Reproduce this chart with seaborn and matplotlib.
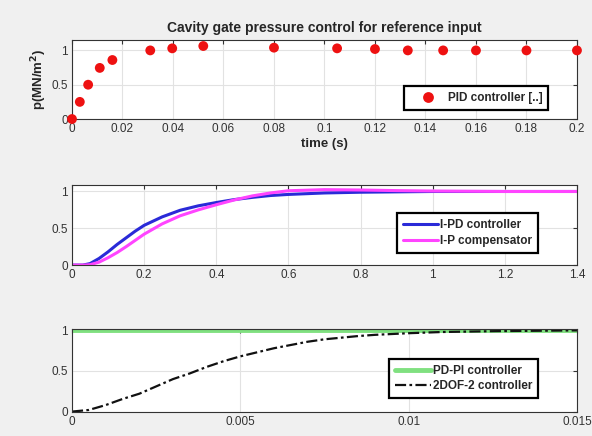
import matplotlib
matplotlib.use("Agg")
import matplotlib.pyplot as plt
import seaborn as sns
import pandas as pd

# ---- data ----
pid_t = [0, 0.0031, 0.0064, 0.011, 0.016, 0.031, 0.0397, 0.052, 0.08, 0.105,
         0.12, 0.133, 0.147, 0.16, 0.18, 0.2]
pid_p = [0, 0.25, 0.50, 0.745, 0.86, 1.0, 1.03, 1.064, 1.04, 1.03,
         1.02, 1.0, 1.0, 1.0, 1.0, 1.0]

mid_t = [0, 0.03, 0.05, 0.075, 0.1, 0.125, 0.15, 0.175, 0.2, 0.25, 0.3, 0.35,
         0.4, 0.45, 0.5, 0.55, 0.6, 0.7, 0.8, 0.9, 1.0, 1.2, 1.4]
ipd_p = [0, 0.0, 0.02, 0.09, 0.18, 0.28, 0.37, 0.46, 0.54, 0.655, 0.745, 0.805,
         0.85, 0.89, 0.92, 0.945, 0.96, 0.98, 0.99, 0.995, 1.0, 1.0, 1.0]
ip_p = [0, 0.0, 0.005, 0.04, 0.10, 0.17, 0.25, 0.335, 0.42, 0.56, 0.67, 0.75,
        0.82, 0.885, 0.94, 0.98, 1.01, 1.025, 1.02, 1.012, 1.006, 1.0, 1.0]

bot_t = [0, 0.0005, 0.001, 0.0015, 0.002, 0.0025, 0.003, 0.0035, 0.004,
         0.0045, 0.005, 0.0055, 0.006, 0.0065, 0.007, 0.0075, 0.008, 0.0085,
         0.009, 0.01, 0.011, 0.0125, 0.015]
pdpi_p = [1.0] * len(bot_t)
dof_p = [0, 0.02, 0.08, 0.155, 0.22, 0.31, 0.40, 0.47, 0.55, 0.62, 0.68,
         0.73, 0.78, 0.82, 0.86, 0.89, 0.91, 0.93, 0.945, 0.965, 0.98, 0.99, 1.0]

top_xticks = [0, 0.02, 0.04, 0.06, 0.08, 0.1, 0.12, 0.14, 0.16, 0.18, 0.2]
top_xlabels = ["0", "0.02", "0.04", "0.06", "0.08", "0.1", "0.12", "0.14", "0.16", "0.18", "0.2"]
mid_xticks = [0, 0.2, 0.4, 0.6, 0.8, 1.0, 1.2, 1.4]
mid_xlabels = ["0", "0.2", "0.4", "0.6", "0.8", "1", "1.2", "1.4"]
bot_xticks = [0, 0.005, 0.01, 0.015]
bot_xlabels = ["0", "0.005", "0.01", "0.015"]
yticks = [0, 0.5, 1]
ylabels = ["0", "0.5", "1"]

sns.set_style("whitegrid")
plt.rcParams["font.family"] = ["Liberation Sans", "DejaVu Sans"]

fig = plt.figure(figsize=(5.92, 4.36), dpi=100)
fig.patch.set_facecolor("#f0f0f0")

ax1 = fig.add_axes([0.1216, 0.727, 0.853, 0.181])
ax2 = fig.add_axes([0.1216, 0.392, 0.853, 0.184])
ax3 = fig.add_axes([0.1216, 0.056, 0.853, 0.19])

df1 = pd.DataFrame({"t": pid_t, "p": pid_p, "s": "PID controller [..]"})
sns.scatterplot(data=df1, x="t", y="p", hue="s", palette=["#ee1111"], s=50,
                edgecolor="#ee1111", linewidth=0, ax=ax1, zorder=3, clip_on=False)

df2 = pd.DataFrame({"t": mid_t * 2, "p": ipd_p + ip_p,
                    "s": ["I-PD controller"] * len(mid_t) + ["I-P compensator"] * len(mid_t)})
sns.lineplot(data=df2, x="t", y="p", hue="s", palette=["#2a2ad8", "#ff44ff"],
             linewidth=2.2, ax=ax2)

df3 = pd.DataFrame({"t": bot_t, "p": pdpi_p})
df4 = pd.DataFrame({"t": bot_t, "p": dof_p})
sns.lineplot(data=df3, x="t", y="p", color="#80e080", linewidth=3.5,
             label="PD-PI controller", ax=ax3)
sns.lineplot(data=df4, x="t", y="p", color="#111111", linewidth=1.6,
             linestyle=(0, (5, 1.5, 1.2, 1.5)), label="2DOF-2 controller", ax=ax3)

configs = [
    (ax1, (0, 0.2), (0, 1.15), top_xticks, top_xlabels),
    (ax2, (0, 1.4), (0, 1.09), mid_xticks, mid_xlabels),
    (ax3, (0, 0.015), (0, 1.02), bot_xticks, bot_xlabels),
]
for ax, xl, yl, xt, xtl in configs:
    ax.set_facecolor("white")
    ax.set_xlim(*xl)
    ax.set_ylim(*yl)
    ax.set_xticks(xt)
    ax.set_xticklabels(xtl)
    ax.set_yticks(yticks)
    ax.set_yticklabels(ylabels)
    ax.grid(True, color="#e2e2e2", linewidth=0.8)
    ax.tick_params(direction="in", length=3, labelsize=8.5, colors="#333333",
                   top=True, right=True, pad=3)
    for sp in ax.spines.values():
        sp.set_visible(True)
        sp.set_color("#333333")
        sp.set_linewidth(0.8)
    ax.set_xlabel("")
    ax.set_ylabel("")

ax1.set_title("Cavity gate pressure control for reference input",
              fontsize=10, fontweight="bold", pad=6)
ax1.set_xlabel("time (s)", fontsize=9.5, fontweight="bold", labelpad=2)
ax1.set_ylabel("p(MN/m$^\\mathbf{2}$)", fontsize=9.5, fontweight="bold", labelpad=2)

leg_kw = dict(frameon=True, fancybox=False, edgecolor="black", framealpha=1,
              prop={"weight": "bold", "size": 8.5}, borderpad=0.5,
              handlelength=3.0, handletextpad=0.2, labelspacing=0.3)
l1 = ax1.legend(loc="center right", bbox_to_anchor=(0.955, 0.27), markerscale=1.1, **leg_kw)
l2 = ax2.legend(loc="center right", bbox_to_anchor=(0.935, 0.4), **leg_kw)
l3 = ax3.legend(loc="center right", bbox_to_anchor=(0.935, 0.4), **leg_kw)
for l in (l1, l2, l3):
    l.get_frame().set_linewidth(1.6)

fig.savefig("out.png", dpi=100, facecolor=fig.get_facecolor())
